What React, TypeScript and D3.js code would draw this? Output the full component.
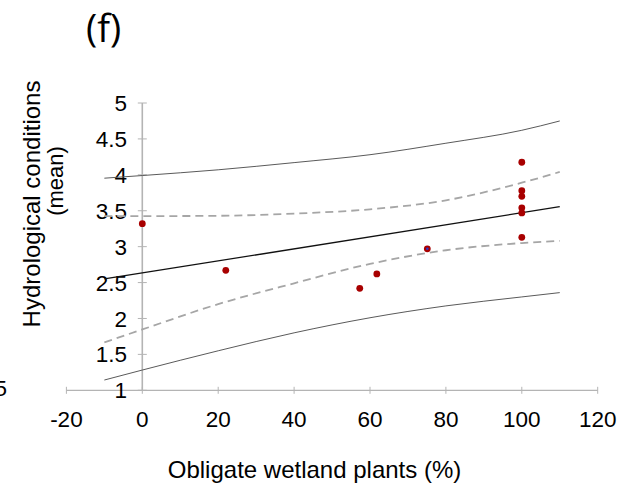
import React from "react";
import * as d3 from "d3";

// Observed points
const pointX = [0, 22, 57.3, 61.8, 75.1, 100, 100, 100, 100, 100, 100];
const pointY = [3.32, 2.67, 2.42, 2.62, 2.97, 4.175, 3.78, 3.7, 3.54, 3.47, 3.13];

// Regression line (end points)
const fitX = [-10, 110];
const fitY = [2.55, 3.556];

// Band sample positions and read values
const bandX = [-10, 0, 20, 40, 60, 80, 100, 110];
const upperPI = [3.953, 3.99, 4.07, 4.17, 4.28, 4.44, 4.62, 4.75];
const lowerPI = [1.143, 1.282, 1.55, 1.8, 2.01, 2.175, 2.3, 2.36];
const upperCI = [3.425, 3.425, 3.43, 3.46, 3.52, 3.645, 3.89, 4.04];
const lowerCI = [1.667, 1.847, 2.2, 2.49, 2.76, 2.95, 3.05, 3.08];

const xTicks = [-20, 0, 20, 40, 60, 80, 100, 120];
const yTicks = [1, 1.5, 2, 2.5, 3, 3.5, 4, 4.5, 5];

const W = 642;
const H = 490;
const FONT = "'Liberation Sans', Arial, Helvetica, sans-serif";

export default function App() {
  const x = d3.scaleLinear().domain([-20, 120]).range([66.4, 597.7]);
  const y = d3.scaleLinear().domain([1, 5]).range([390.3, 103]);

  const band = (vals: number[]) =>
    d3
      .line<number>()
      .x((_, i) => x(bandX[i]))
      .y((v) => y(v))
      .curve(d3.curveMonotoneX)(vals) || "";

  const fitPath =
    d3
      .line<number>()
      .x((_, i) => x(fitX[i]))
      .y((v) => y(v))(fitY) || "";

  const axisColor = "#b4b4b4";

  return (
    <svg
      width={W}
      height={H}
      style={{ position: "absolute", left: 0, top: 0, background: "#fff" }}
      fontFamily={FONT}
    >
      <rect x={0} y={0} width={W} height={H} fill="#fff" />
      {/* title */}
      <text x={86} y={42} fontSize={38} fill="#000" fontFamily="'Open Sans', 'Noto Sans', sans-serif">
        (f)
      </text>

      {/* stray clipped label at left edge */}
      <text x={7} y={396} fontSize={22} textAnchor="end" fill="#000">
        1.5
      </text>

      {/* x axis */}
      <line x1={x(-20)} x2={x(120)} y1={y(1)} y2={y(1)} stroke={axisColor} strokeWidth={1.2} />
      {xTicks.map((t) => (
        <g key={"xt" + t}>
          <line x1={x(t)} x2={x(t)} y1={y(1) - 3.5} y2={y(1) + 3.5} stroke={axisColor} strokeWidth={1} />
          <text x={x(t)} y={427} fontSize={22.5} textAnchor="middle" fill="#000">
            {t}
          </text>
        </g>
      ))}

      {/* y axis */}
      <line x1={x(0)} x2={x(0)} y1={y(1)} y2={y(5)} stroke={axisColor} strokeWidth={1.6} />
      {yTicks.map((t) => (
        <g key={"yt" + t}>
          <line x1={x(0) - 4.5} x2={x(0) + 4.5} y1={y(t)} y2={y(t)} stroke={axisColor} strokeWidth={1} />
          <text x={127} y={y(t)} dy="0.36em" fontSize={22.5} textAnchor="end" fill="#000">
            {t}
          </text>
        </g>
      ))}

      {/* prediction bands */}
      <path d={band(upperPI)} fill="none" stroke="#5a5a5a" strokeWidth={1} />
      <path d={band(lowerPI)} fill="none" stroke="#5a5a5a" strokeWidth={1} />
      {/* confidence bands */}
      <path d={band(upperCI)} fill="none" stroke="#a6a6a6" strokeWidth={1.8} strokeDasharray="8,5" />
      <path d={band(lowerCI)} fill="none" stroke="#a6a6a6" strokeWidth={1.8} strokeDasharray="8,5" />
      {/* fit */}
      <path d={fitPath} fill="none" stroke="#111" strokeWidth={1.3} />

      {/* points */}
      {pointX.map((px, i) => (
        <circle key={"p" + i} cx={x(px)} cy={y(pointY[i])} r={3.4} fill="#a80000" />
      ))}
      <circle cx={x(pointX[4])} cy={y(pointY[4])} r={1.3} fill="#2a3ad0" />

      {/* y label */}
      <text
        transform={`translate(40,204) rotate(-90)`}
        fontSize={24}
        textAnchor="middle"
        fill="#000"
      >
        Hydrological conditions
      </text>
      <text
        transform={`translate(63,181) rotate(-90)`}
        fontSize={22}
        textAnchor="middle"
        fill="#000"
      >
        (mean)
      </text>

      {/* x label */}
      <text x={314.5} y={478} fontSize={24} textAnchor="middle" fill="#000">
        Obligate wetland plants (%)
      </text>
    </svg>
  );
}
